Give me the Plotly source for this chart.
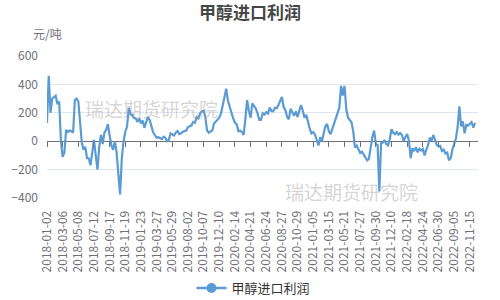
import plotly.graph_objects as go

title_text = "甲醇进口利润"
series_name = "甲醇进口利润"
unit_label = "元/吨"
watermark = "瑞达期货研究院"

# tick labels of the category axis (one label every 9 samples)
tick_labels = [
    "2018-01-02", "2018-03-06", "2018-05-08", "2018-07-12", "2018-09-17", "2018-11-19",
    "2019-01-23", "2019-03-27", "2019-05-29", "2019-08-02", "2019-10-07", "2019-12-10",
    "2020-02-14", "2020-04-21", "2020-06-24", "2020-08-27", "2020-10-29", "2021-01-05",
    "2021-03-15", "2021-05-21", "2021-07-27", "2021-09-30", "2021-12-10", "2022-02-18",
    "2022-04-24", "2022-06-30", "2022-09-05", "2022-11-15",
]
samples_per_label = 9

# profit values (yuan/ton)
profit = [
    128, 460, 200, 300, 310, 320, 260, 280, 0, -110,
    -80, 80, 65, 75, 70, 60, 290, 300, 280, 150,
    -10, -60, -40, -120, -120, -170, -70, 10, -100, -200,
    -40, 45, -20, 60, 80, 120, 40, -30, -60, 0,
    -80, -220, -375, -120, 0, 67, 103, 235, 190, 185,
    165, 160, 135, 160, 125, 145, 95, 135, 170, 150,
    100, 62, 42, 25, 28, 20, 15, 32, 24, 0,
    10, 55, 45, 40, 60, 72, 50, 55, 66, 70,
    75, 100, 105, 110, 135, 130, 170, 160, 196, 210,
    215, 170, 75, 60, 68, 75, 125, 140, 150, 165,
    195, 258, 320, 370, 285, 240, 210, 160, 130, 120,
    70, 75, 65, 45, 155, 290, 215, 165, 267, 250,
    230, 196, 150, 150, 196, 188, 205, 195, 237, 212,
    210, 235, 232, 255, 285, 312, 240, 218, 170, 155,
    228, 200, 180, 210, 170, 215, 255, 215, 165, 185,
    126, 90, 55, 65, 48, 10, -30, 28, 0, 55,
    105, 122, 70, 50, 90, 115, 165, 200, 235, 390,
    322, 390, 225, 165, 150, 133, 70, -45, -30, -55,
    -83, -73, -96, -110, -135, -125, -35, 30, 75, -20,
    -26, -354, -15, -10, 8, -20, -30, 15, 85, 60,
    50, 65, 47, 58, 44, 0, 30, 50, 5, -120,
    -50, -70, -42, -78, -54, -65, -55, -100, -60, -28,
    25, 3, 44, 0, -26, -37, -33, -69, -60, -86,
    -80, -135, -120, -58, -20, 19, 100, 245, 105, 140,
    55, 115, 110, 120, 135, 95, 130,
]

y_ticks = [600, 400, 200, 0, -200, -400]

idx = list(range(len(profit)))
tick_pos = [i * samples_per_label for i in range(len(tick_labels))]

FONT = "Noto Sans CJK SC"
LINE = "#5B9BD5"
AXIS_GREY = "#6E7079"

fig = go.Figure()
fig.add_trace(go.Scatter(
    x=idx, y=profit, mode="lines", name=series_name,
    line=dict(color=LINE, width=2.2),
    showlegend=False, hoverinfo="skip",
))
# legend entry with line + circle symbol
fig.add_trace(go.Scatter(
    x=[None], y=[None], mode="lines+markers", name=series_name,
    line=dict(color=LINE, width=2.5), marker=dict(color=LINE, size=10),
    showlegend=True,
))
# invisible trace on the zero-positioned axis to draw tick marks there
fig.add_trace(go.Scatter(
    x=[idx[0], idx[-1]], y=[0, 0], xaxis="x2", mode="lines",
    line=dict(width=0), showlegend=False, hoverinfo="skip",
))

x_range = [0, len(profit) - 1 + 1.7]

fig.update_layout(
    width=500, height=300,
    margin=dict(l=47, r=22, t=56, b=102, autoexpand=False),
    paper_bgcolor="white", plot_bgcolor="white",
    font=dict(family=FONT, color=AXIS_GREY, size=12),
    title=dict(text="<b>" + title_text + "</b>", x=0.5, xanchor="center",
               y=1 - 13 / 300, yanchor="middle",
               font=dict(family=FONT, size=17, color="#464646")),
    showlegend=True,
    legend=dict(orientation="h", x=0.5 - 9 / 431, xanchor="center", y=(198 - 288) / 142, yanchor="middle",
                font=dict(family=FONT, size=13, color="#333333"), itemwidth=30,
                bgcolor="rgba(0,0,0,0)"),
    hovermode=False,
    xaxis=dict(
        range=x_range, tickmode="array", tickvals=tick_pos, ticktext=tick_labels,
        tickangle=-90, ticks="outside", ticklen=7, tickcolor="rgba(0,0,0,0)",
        showgrid=False, zeroline=False, showline=False, automargin=False,
        tickfont=dict(family=FONT, size=12, color=AXIS_GREY),
    ),
    xaxis2=dict(
        range=x_range, overlaying="x", anchor="free", position=0.4, side="bottom",
        tickmode="array", tickvals=tick_pos, ticks="outside", ticklen=5,
        tickcolor=AXIS_GREY, showticklabels=False, showgrid=False,
        zeroline=False, showline=False, automargin=False,
    ),
    yaxis=dict(
        range=[-400, 600], tickmode="array", tickvals=y_ticks,
        showgrid=True, gridcolor="#E0E6F1", gridwidth=1,
        zeroline=True, zerolinecolor=AXIS_GREY, zerolinewidth=1,
        showline=False, ticks="", ticklabelstandoff=8, automargin=False,
        tickfont=dict(family=FONT, size=12, color=AXIS_GREY),
    ),
    annotations=[
        dict(text=unit_label, xref="paper", yref="paper", x=0, y=(198 - 33.5) / 142,
             xanchor="center", yanchor="middle", showarrow=False,
             font=dict(family=FONT, size=12, color=AXIS_GREY)),
        dict(text=watermark, xref="paper", yref="paper", x=(151 - 47) / 431, y=(198 - 108) / 142,
             xanchor="center", yanchor="middle", showarrow=False,
             font=dict(family=FONT, size=19, color="rgba(160,160,160,0.45)")),
        dict(text=watermark, xref="paper", yref="paper", x=(351 - 47) / 431, y=(198 - 191) / 142,
             xanchor="center", yanchor="middle", showarrow=False,
             font=dict(family=FONT, size=19, color="rgba(160,160,160,0.45)")),
    ],
)

fig.write_html("out.html")
